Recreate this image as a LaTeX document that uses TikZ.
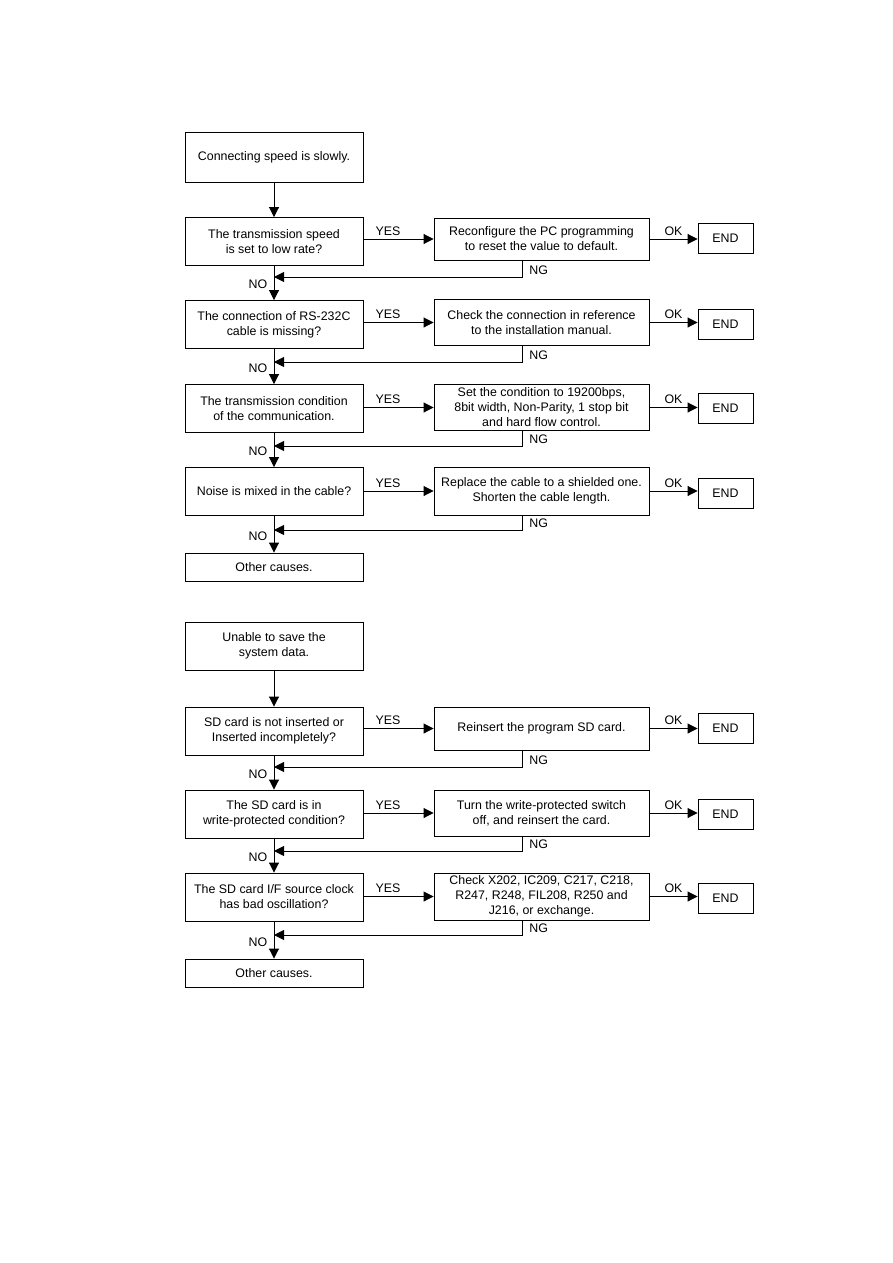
\documentclass[tikz,border=0pt]{standalone}
\usepackage{fontspec}
\setmainfont{Liberation Sans}
\usetikzlibrary{arrows.meta,positioning}

\begin{document}
\begin{tikzpicture}[x=1pt,y=-1pt,>={Triangle[length=10pt,width=10pt]},line width=0.9pt,
    every node/.style={font=\fontsize{12.4}{15}\selectfont},
    qbox/.style={draw,minimum width=178pt,minimum height=48pt,align=center,inner sep=0pt},
    abox/.style={draw,minimum width=215pt,minimum height=46pt,align=center,inner sep=0pt},
    endbox/.style={draw,minimum width=55pt,minimum height=30pt,inner sep=0pt},
    nglabel/.style={above right,inner sep=2pt,xshift=5pt}]

  \useasboundingbox[fill=white] (0,0) rectangle (893,1263);

  % ── chart 1: connecting speed ───────────────────────────────────
  \node[qbox,minimum height=50pt] (s1) at (274,157) {Connecting speed is slowly.};

  \node[qbox] (q1) at (274,241.5) {The transmission speed\\is set to low rate?};
  \node[abox,minimum height=42pt] (a1) at (541.5,239)
    {Reconfigure the PC programming\\to reset the value to default.};
  \node[endbox] (e1) at (725.5,238) {END};

  \node[qbox] (q2) at (274,324.5) {The connection of RS-232C\\cable is missing?};
  \node[abox] (a2) at (541.5,322.5)
    {Check the connection in reference\\to the installation manual.};
  \node[endbox] (e2) at (725.5,324) {END};

  \node[qbox] (q3) at (274,408.5) {The transmission condition\\of the communication.};
  \node[abox] (a3) at (541.5,407.5)
    {Set the condition to 19200bps,\\8bit width, Non-Parity, 1 stop bit\\and hard flow control.};
  \node[endbox] (e3) at (725.5,408) {END};

  \node[qbox] (q4) at (274,491.5) {Noise is mixed in the cable?};
  \node[abox,minimum height=48pt] (a4) at (541.5,491)
    {Replace the cable to a shielded one.\\Shorten the cable length.};
  \node[endbox] (e4) at (725.5,493) {END};

  \node[qbox,minimum height=28pt] (o1) at (274,567) {Other causes.};

  \coordinate (m1) at (274,277);
  \coordinate (m2) at (274,362);
  \coordinate (m3) at (274,446);
  \coordinate (m4) at (274,530);

  \draw[->] (s1) -- (q1);
  \draw[->] (q1) -- node[pos=0.55,left,xshift=-3pt]{NO} (q2);
  \draw[->] (q2) -- node[pos=0.55,left,xshift=-3pt]{NO} (q3);
  \draw[->] (q3) -- node[pos=0.55,left,xshift=-3pt]{NO} (q4);
  \draw[->] (q4) -- node[pos=0.55,left,xshift=-3pt]{NO} (o1);

  % YES / OK arrows
  \draw[->] (q1.east |- a1.west) -- node[pos=0.35,above]{YES} (a1.west);
  \draw[->] (q2.east |- a2.west) -- node[pos=0.35,above]{YES} (a2.west);
  \draw[->] (q3.east |- a3.west) -- node[pos=0.35,above]{YES} (a3.west);
  \draw[->] (q4.east |- a4.west) -- node[pos=0.35,above]{YES} (a4.west);
  \draw[->] (a1.east) -- node[above]{OK} (a1.east -| e1.west);
  \draw[->] (a2.east) -- node[above]{OK} (a2.east -| e2.west);
  \draw[->] (a3.east) -- node[above]{OK} (a3.east -| e3.west);
  \draw[->] (a4.east) -- node[above]{OK} (a4.east -| e4.west);

  % NG returns
  \draw[->] ([xshift=-19.5pt]a1.south) |- node[pos=0.5,nglabel]{NG} (m1);
  \draw[->] ([xshift=-19.5pt]a2.south) |- node[pos=0.5,nglabel]{NG} (m2);
  \draw[->] ([xshift=-19.5pt]a3.south) |- node[pos=0.5,nglabel]{NG} (m3);
  \draw[->] ([xshift=-19.5pt]a4.south) |- node[pos=0.5,nglabel]{NG} (m4);

  % ── chart 2: system data ────────────────────────────────────────
  \node[qbox] (s2) at (274,646) {Unable to save the\\system data.};

  \node[qbox] (q5) at (274,731) {SD card is not inserted or\\Inserted incompletely?};
  \node[abox,minimum height=43pt] (a5) at (541.5,728.5) {Reinsert the program SD card.};
  \node[endbox] (e5) at (725.5,728) {END};

  \node[qbox] (q6) at (274,814) {The SD card is in\\write-protected condition?};
  \node[abox] (a6) at (541.5,813)
    {Turn the write-protected switch\\off, and reinsert the card.};
  \node[endbox] (e6) at (725.5,814) {END};

  \node[qbox] (q7) at (274,897) {The SD card I/F source clock\\has bad oscillation?};
  \node[abox,minimum height=47pt] (a7) at (541.5,896.5)
    {Check X202, IC209, C217, C218,\\R247, R248, FIL208, R250 and\\J216, or exchange.};
  \node[endbox] (e7) at (725.5,898) {END};

  \node[qbox,minimum height=28pt] (o2) at (274,973) {Other causes.};

  \coordinate (m5) at (274,767);
  \coordinate (m6) at (274,851);
  \coordinate (m7) at (274,935);

  \draw[->] (s2) -- (q5);
  \draw[->] (q5) -- node[pos=0.55,left,xshift=-3pt]{NO} (q6);
  \draw[->] (q6) -- node[pos=0.55,left,xshift=-3pt]{NO} (q7);
  \draw[->] (q7) -- node[pos=0.55,left,xshift=-3pt]{NO} (o2);

  \draw[->] (q5.east |- a5.west) -- node[pos=0.35,above]{YES} (a5.west);
  \draw[->] (q6.east |- a6.west) -- node[pos=0.35,above]{YES} (a6.west);
  \draw[->] (q7.east |- a7.west) -- node[pos=0.35,above]{YES} (a7.west);
  \draw[->] (a5.east) -- node[above]{OK} (a5.east -| e5.west);
  \draw[->] (a6.east) -- node[above]{OK} (a6.east -| e6.west);
  \draw[->] (a7.east) -- node[above]{OK} (a7.east -| e7.west);

  \draw[->] ([xshift=-19.5pt]a5.south) |- node[pos=0.5,nglabel]{NG} (m5);
  \draw[->] ([xshift=-19.5pt]a6.south) |- node[pos=0.5,nglabel]{NG} (m6);
  \draw[->] ([xshift=-19.5pt]a7.south) |- node[pos=0.5,nglabel]{NG} (m7);

\end{tikzpicture}
\end{document}
